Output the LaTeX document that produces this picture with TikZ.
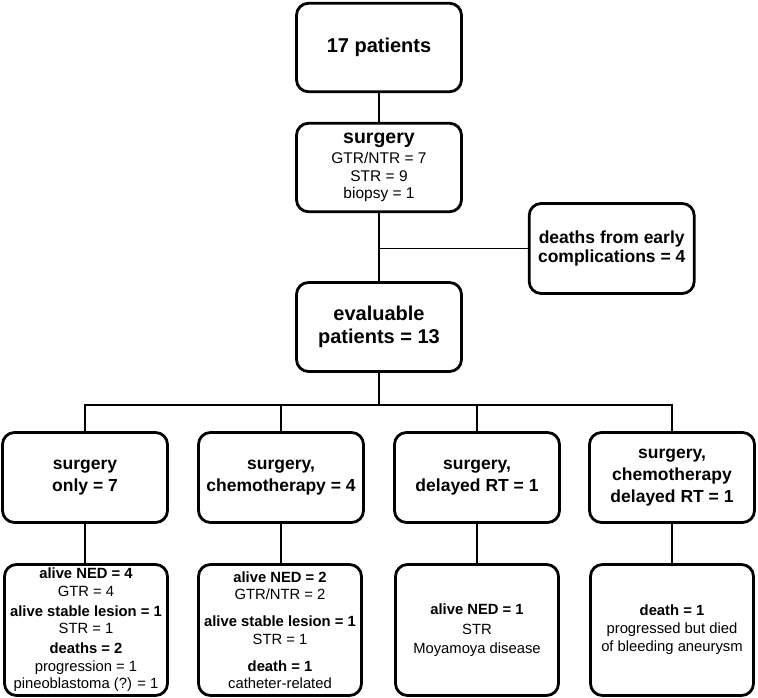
\documentclass[tikz,border=0pt]{standalone}
\usepackage{fontspec}
\setmainfont{Liberation Sans}
\begin{document}
\begin{tikzpicture}[x=1pt,y=-1pt,
  box/.style={draw, line width=2.8pt, rounded corners=12pt, align=center, inner sep=0pt, minimum width=165pt},
  topbox/.style={box, minimum height=88.5pt},
  midbox/.style={box, minimum height=90pt, font=\fontsize{17.5}{22}\selectfont\bfseries},
  lowbox/.style={box, minimum width=163pt, minimum height=131pt, font=\fontsize{14.8}{17.5}\selectfont},
  conn/.style={line width=1.4pt}]
\useasboundingbox (0,0) rectangle (758,698);

\node[topbox, font=\fontsize{20}{24}\selectfont\bfseries] (pt) at (379,47.5) {17 patients};
\node[topbox, font=\fontsize{15.5}{17.5}\selectfont] (sg) at (379,167.5)
  {{\fontsize{19.5}{20}\selectfont\bfseries surgery}\\[3pt] GTR/NTR = 7\\ STR = 9\\ biopsy = 1};
\node[box, minimum height=90pt, font=\fontsize{17.5}{19}\selectfont\bfseries] (dc) at (611.7,248.5)
  {deaths from early\\ complications = 4};
\node[box, minimum height=89pt, font=\fontsize{20}{23}\selectfont\bfseries] (ev) at (379,327)
  {evaluable\\ patients = 13};

\node[midbox] (m1) at (85,477.5) {surgery\\ only = 7};
\node[midbox] (m2) at (281,477.5) {surgery,\\ chemotherapy = 4};
\node[midbox] (m3) at (477,477.5) {surgery,\\ delayed RT = 1};
\node[midbox] (m4) at (672,477.5) {surgery,\\ chemotherapy\\ delayed RT = 1};

\node[lowbox] (b1) at (86,630)
  {\textbf{alive NED = 4}\\ GTR = 4\\[2.5pt] \textbf{alive stable lesion = 1}\\ STR = 1\\[2.5pt] \textbf{deaths = 2}\\ progression = 1\\ pineoblastoma (?) = 1};
\node[lowbox] (b2) at (280,630)
  {\textbf{alive NED = 2}\\ GTR/NTR = 2\\[9.5pt] \textbf{alive stable lesion = 1}\\ STR = 1\\[9.5pt] \textbf{death = 1}\\ catheter-related};
\node[lowbox, font=\fontsize{14.8}{19}\selectfont] (b3) at (477,630)
  {\textbf{alive NED = 1}\\[1pt] STR\\ Moyamoya disease};
\node[lowbox, font=\fontsize{14.8}{18}\selectfont] (b4) at (672,630)
  {\textbf{death = 1}\\ progressed but died\\ of bleeding aneurysm};

\coordinate (bus) at (379,405);
\draw[conn] (pt.south) -- (sg.north);
\draw[conn] (sg.south) -- (ev.north);
\draw[conn] (dc.west) -- (dc.west -| sg.south);
\draw[conn] (ev.south) -- (bus);
\draw[conn] (m1.north) |- (bus);
\draw[conn] (m2.north) |- (bus);
\draw[conn] (m3.north) |- (bus);
\draw[conn] (m4.north) |- (bus);
\draw[conn] (m1.south) -- (m1.south |- b1.north);
\draw[conn] (m2.south) -- (m2.south |- b2.north);
\draw[conn] (m3.south) -- (m3.south |- b3.north);
\draw[conn] (m4.south) -- (m4.south |- b4.north);
\end{tikzpicture}
\end{document}
